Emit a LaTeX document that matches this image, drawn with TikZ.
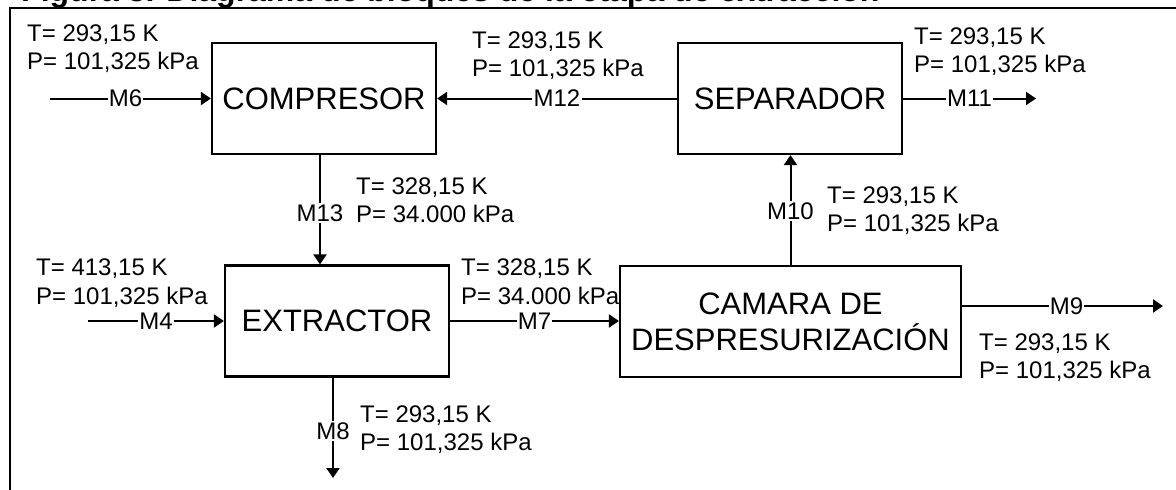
\documentclass[tikz,border=0pt]{standalone}
\usepackage{fontspec}
\setmainfont{Liberation Sans}
\usetikzlibrary{arrows.meta}
\tikzset{
  blockbox/.style={draw=black, line width=2.2pt, fill=white, inner sep=0pt,
    font=\fontsize{31}{36}\selectfont, align=center},
  conn/.style={line width=2pt, -{Triangle[length=10pt,width=13pt]}},
  lab/.style={fill=white, inner sep=1.2pt, font=\fontsize{24}{28}\selectfont},
  info/.style={anchor=base west, inner sep=0pt, font=\fontsize{24}{28}\selectfont},
  frameline/.style={line width=2.7pt}
}
\begin{document}
\begin{tikzpicture}[x=1pt,y=-1pt]
\useasboundingbox (0,0) rectangle (1176,490);
% title (cut off at the top edge)
\begin{scope}
\clip (0,0) rectangle (1176,7);
\node[anchor=base west, inner sep=0pt, font=\bfseries\fontsize{32}{34}\selectfont] (title) at (21,1.5) {Figura 3. Diagrama de bloques de la etapa de extracción};
\end{scope}
% frame
\coordinate (fTL) at (10,8);
\coordinate (fTR) at (1176,8);
\coordinate (fBL) at (10,490);
\draw[frameline] (fTR) -- (fTL) -- (fBL);

% blocks
\node[blockbox, minimum width=224, minimum height=111] (comp) at (324,98.5) {COMPRESOR};
\node[blockbox, minimum width=224, minimum height=111] (sep) at (790,98.5) {SEPARADOR};
\node[blockbox, minimum width=224, minimum height=111] (ext) at (337,321) {EXTRACTOR};
\node[blockbox, minimum width=341, minimum height=111] (cam) at (790.5,321.5) {CAMARA DE\\DESPRESURIZACIÓN};

% free ends
\coordinate (m6s) at (50,98.5);
\coordinate (m11e) at (1036,98.5);
\coordinate (m4s) at (88,321);
\coordinate (m8e) at (333,478);
\coordinate (m9e) at (1163,306);

% connectors
\draw[conn] (m6s) -- node[lab, pos=0.47] (lm6) {M6} (comp.west);
\draw[conn] (sep.west) -- node[lab, pos=0.5] (lm12) {M12} (comp.east);
\draw[conn] (sep.east) -- node[lab, pos=0.5] (lm11) {M11} (m11e);
\draw[conn] ([xshift=-4pt]comp.south) -- node[lab, pos=0.53] (lm13) {M13} ([xshift=-4pt]comp.south |- ext.north);
\draw[conn] (m4s) -- node[lab, pos=0.5] (lm4) {M4} (ext.west);
\draw[conn] (ext.east) -- node[lab, pos=0.5] (lm7) {M7} (cam.west |- ext.east);
\draw[conn] (m8e |- ext.south) -- node[lab, pos=0.53] (lm8) {M8} (m8e);
\draw[conn] (cam.north) -- node[lab, pos=0.49] (lm10) {M10} (cam.north |- sep.south);
\draw[conn] (cam.east |- m9e) -- node[lab, pos=0.52] (lm9) {M9} (m9e);

% stream conditions
\node[info] (t6) at (27,41) {T= 293,15 K};
\node[info] (p6) at (27,69) {P= 101,325 kPa};
\node[info] (t12) at (472,48) {T= 293,15 K};
\node[info] (p12) at (472,76) {P= 101,325 kPa};
\node[info] (t11) at (914,44) {T= 293,15 K};
\node[info] (p11) at (914,72) {P= 101,325 kPa};
\node[info] (t13) at (356,194) {T= 328,15 K};
\node[info] (p13) at (356,222) {P= 34.000 kPa};
\node[info] (t4) at (36,275) {T= 413,15 K};
\node[info] (p4) at (36,304) {P= 101,325 kPa};
\node[info] (t7) at (461,275) {T= 328,15 K};
\node[info] (p7) at (461,304) {P= 34.000 kPa};
\node[info] (t10) at (827,203) {T= 293,15 K};
\node[info] (p10) at (827,231) {P= 101,325 kPa};
\node[info] (t9) at (979,350) {T= 293,15 K};
\node[info] (p9) at (979,378) {P= 101,325 kPa};
\node[info] (t8) at (360,422) {T= 293,15 K};
\node[info] (p8) at (360,450) {P= 101,325 kPa};
\end{tikzpicture}
\end{document}
